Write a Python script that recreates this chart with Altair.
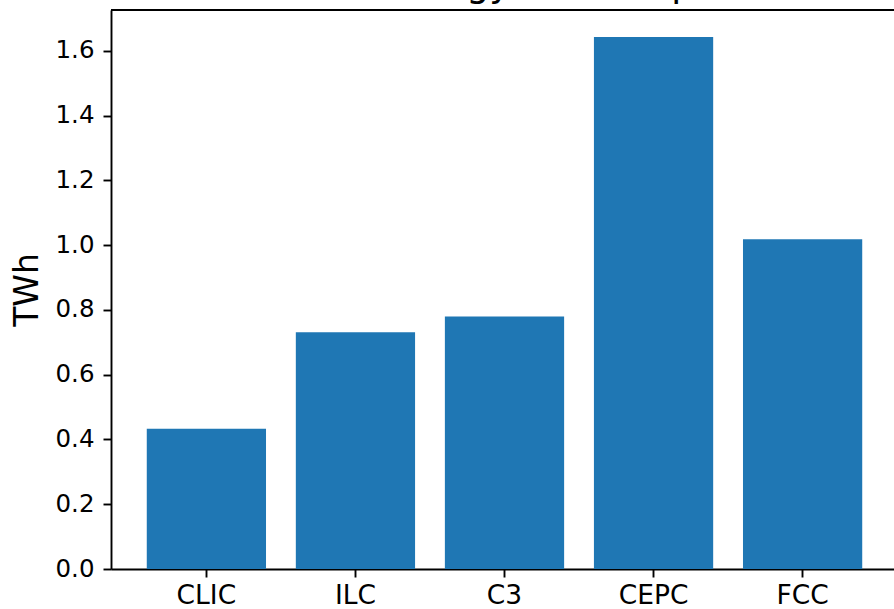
import altair as alt
import pandas as pd

categories = ["CLIC", "ILC", "C3", "CEPC", "FCC"]
values = [0.433, 0.731, 0.780, 1.643, 1.018]
y_ticks = [0.0, 0.2, 0.4, 0.6, 0.8, 1.0, 1.2, 1.4, 1.6]
title_text = "Annual Energy Consumption"
y_title = "TWh"

df = pd.DataFrame({"collider": categories, "twh": values})

W, H = 783, 559
FONT = "DejaVu Sans"

bars = alt.Chart(df).mark_bar(color="#1f77b4").encode(
    x=alt.X(
        "collider:N",
        sort=categories,
        scale=alt.Scale(range=[0, 787], paddingInner=0.2, paddingOuter=0.24),
        axis=alt.Axis(
            title=None,
            labelAngle=0,
            labelFontSize=26.5,
            labelBaseline="alphabetic",
            labelPadding=26,
        ),
    ),
    y=alt.Y(
        "twh:Q",
        scale=alt.Scale(domain=[0, 1.726], nice=False, zero=True),
        axis=alt.Axis(
            title=y_title,
            values=y_ticks,
            format=".1f",
            labelFontSize=24.5,
            labelPadding=9,
            titleFontSize=33,
            titleFontWeight="normal",
            titleAngle=270,
            titleBaseline="alphabetic",
            titleAlign="center",
            titleX=-74,
            titleY=H / 2,
        ),
    ),
)

frame_top = alt.Chart(pd.DataFrame({"k": [0]})).mark_rule(
    color="black", strokeWidth=1.9
).encode(x=alt.value(0), x2=alt.value(W), y=alt.value(0))

# white cover for the right plot edge (the reference's right spine is cropped away)
edge_cover = alt.Chart(pd.DataFrame({"k": [0]})).mark_rule(
    color="white", strokeWidth=4
).encode(x=alt.value(W - 1.5), y=alt.value(2), y2=alt.value(H - 2))

title_mark = alt.Chart(pd.DataFrame({"t": [title_text]})).mark_text(
    font=FONT,
    fontSize=36.5,
    color="black",
    align="center",
    baseline="alphabetic",
).encode(text="t:N", x=alt.value(393.5), y=alt.value(-13.6))

chart = (
    alt.layer(bars, frame_top, edge_cover, title_mark)
    .properties(
        width=W,
        height=H,
        autosize=alt.AutoSizeParams(type="none"),
        padding={"left": 111, "top": 10, "right": 0, "bottom": 35},
    )
    .configure_view(strokeWidth=0, stroke="transparent")
    .configure_axis(
        grid=False,
        domainColor="black",
        domainWidth=1.9,
        tickColor="black",
        tickWidth=1.9,
        tickSize=8,
        labelFont=FONT,
        titleFont=FONT,
        labelColor="black",
        titleColor="black",
    )
)

chart.save("out.html", embed_options={"renderer": "svg", "actions": False})
